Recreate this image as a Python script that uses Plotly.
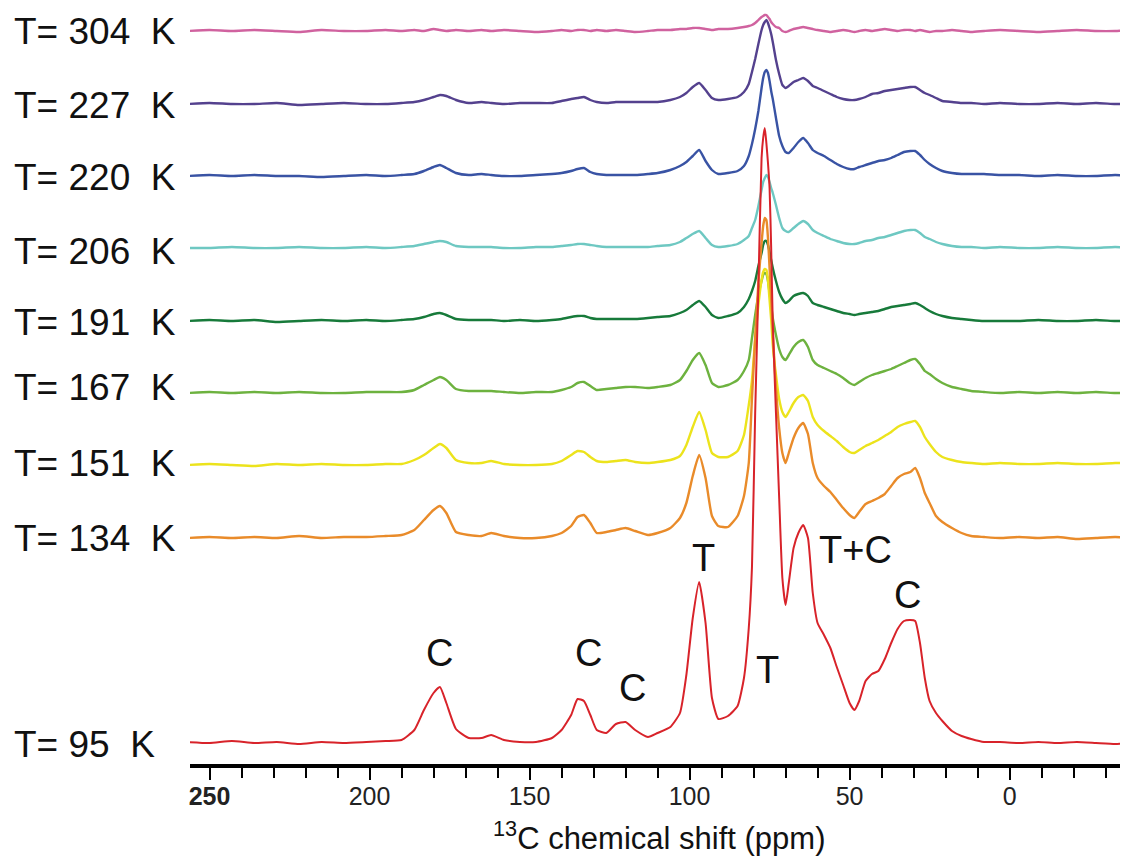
import plotly.graph_objects as go

# chemical shift grid (ppm)
ppm = [257, 250, 243, 236, 229, 222, 215, 208, 201, 195,
       190, 186, 183, 180, 178, 176, 173, 169, 165, 162,
       158, 153, 148, 143, 140, 137, 135, 133, 131, 129,
       126, 123, 120, 117, 113, 110, 106, 103, 101, 99,
       97, 95, 93, 91, 88, 85, 83, 81.5, 80.5, 79.5,
       78.5, 77.5, 77, 76.5, 76, 75.5, 75, 74.5, 74, 73,
       72, 71, 70, 69, 67.5, 66, 64.5, 63, 61.5, 60,
       58, 56, 54, 52, 50, 48.5, 47, 45, 43, 41,
       39, 37, 35, 33, 31, 29.5, 28, 26.5, 25, 23,
       21, 18, 15, 12, 8, 3, -3, -9, -15, -21, -27, -33, -38]

temps = ["304", "227", "220", "206", "191", "167", "151", "134", "95"]

i304 = [0, 1, 0, 1, 0, -1, 1, 0, 0, 1,
        0, 1, 0, 2, 1, 0, 1, 0, 1, 0,
        1, 0, -1, 0, 1, 0, 1, 1, 0, 1,
        0, 1, 0, -1, 0, 1, 1, 2, 2, 3,
        3, 2, 1, 2, 2, 3, 4, 5, 6, 8,
        11, 14, 15, 16, 16, 14, 12, 9, 7, 4,
        3, 0, -1, 0, 2, 3, 4, 3, 2, 1,
        0, -1, 0, 1, 0, -1, 0, 1, 0, 1,
        2, 1, 0, 1, 1, 0, 1, 0, -1, 0,
        0, 1, 0, -1, 0, 1, 0, -1, 0, 1, 0, 0, 1]

i227 = [0, 1, 0, 0, 1, -1, 0, 1, 0, 0,
        1, 2, 4, 7, 9, 8, 4, 1, 2, 1,
        0, 1, 1, 1, 3, 5, 6, 7, 4, 2,
        1, 2, 2, 2, 2, 2, 4, 7, 11, 17,
        21, 14, 6, 4, 5, 7, 12, 20, 32, 45,
        60, 74, 79, 82, 84, 81, 76, 70, 62, 44,
        30, 19, 16, 18, 22, 24, 26, 23, 18, 16,
        13, 10, 7, 5, 4, 4, 5, 7, 10, 11,
        13, 14, 15, 16, 17, 17, 14, 11, 9, 6,
        3, 2, 1, 1, 0, 1, 0, 0, 1, 0, 1, 0, 0]

i220 = [0, 1, 0, 1, 0, 0, -1, 0, 1, 0,
        1, 2, 5, 9, 11, 8, 3, 1, 2, 1,
        0, 0, 1, 2, 3, 5, 7, 8, 4, 2,
        1, 1, 1, 1, 2, 3, 6, 10, 14, 20,
        26, 15, 6, 2, 3, 5, 10, 20, 32, 47,
        65, 88, 98, 104, 106, 103, 95, 85, 77, 58,
        40, 30, 24, 23, 28, 34, 38, 33, 26, 23,
        20, 16, 12, 9, 7, 7, 9, 11, 13, 15,
        16, 18, 21, 24, 25, 25, 21, 16, 12, 8,
        5, 3, 2, 2, 2, 1, 1, 0, 1, 0, 0, 1, 0]

i206 = [0, 0, 1, 0, 0, 1, 0, 0, 1, 0,
        1, 2, 4, 6, 7, 6, 2, 1, 1, 1,
        0, 0, 1, 1, 2, 3, 4, 4, 3, 2,
        1, 1, 1, 1, 1, 2, 3, 6, 10, 14,
        17, 10, 3, 1, 2, 4, 8, 12, 20, 28,
        42, 58, 66, 70, 73, 71, 66, 60, 55, 43,
        30, 20, 17, 16, 20, 24, 27, 24, 18, 15,
        12, 9, 7, 5, 4, 4, 5, 7, 8, 10,
        11, 13, 15, 17, 18, 18, 15, 11, 9, 6,
        4, 2, 1, 1, 0, 1, 0, 0, 1, 0, 0, 1, 0]

i191 = [0, 1, 0, 1, -1, 0, 1, 0, 1, 0,
        1, 2, 4, 7, 8, 6, 2, 1, 1, 1,
        0, 1, 0, 1, 2, 4, 5, 5, 3, 2,
        2, 2, 2, 2, 3, 4, 5, 8, 11, 16,
        20, 14, 6, 3, 5, 8, 14, 22, 30, 40,
        55, 68, 76, 80, 80, 76, 69, 61, 53, 40,
        29, 22, 18, 20, 25, 27, 28, 25, 18, 16,
        14, 12, 10, 8, 7, 6, 7, 8, 9, 10,
        12, 14, 15, 16, 17, 18, 16, 13, 10, 7,
        5, 3, 2, 1, 0, 0, 0, 1, 0, 0, 1, 0, 0]

i167 = [0, 1, 0, 1, 0, 1, 0, 0, 1, 1,
        1, 3, 8, 13, 16, 13, 4, 2, 2, 2,
        1, 0, 1, 1, 3, 6, 10, 11, 7, 3,
        4, 5, 6, 6, 5, 6, 8, 13, 22, 33,
        40, 28, 10, 6, 8, 13, 22, 33, 55, 78,
        98, 112, 118, 120, 119, 112, 100, 88, 75, 58,
        44, 36, 33, 38, 46, 51, 53, 46, 33, 28,
        25, 22, 19, 15, 10, 8, 11, 15, 18, 20,
        22, 24, 27, 30, 33, 34, 29, 22, 19, 14,
        10, 6, 4, 2, 1, 0, 1, 0, 1, 0, 1, 0, 0]

i151 = [0, 1, 0, -1, 1, 0, 1, 0, 0, 1,
        1, 5, 10, 17, 21, 17, 5, 2, 2, 4,
        1, 0, 0, 1, 4, 10, 14, 13, 8, 4,
        3, 4, 5, 3, 2, 3, 5, 9, 20, 38,
        53, 35, 12, 8, 8, 14, 30, 60, 85, 125,
        160, 185, 193, 196, 195, 185, 165, 145, 120, 90,
        66, 53, 48, 53, 62, 68, 70, 64, 48, 40,
        34, 29, 24, 18, 13, 12, 15, 19, 22, 25,
        29, 33, 38, 41, 43, 44, 38, 28, 21, 13,
        8, 5, 3, 2, 1, 2, 1, 1, 2, 1, 1, 2, 2]

i134 = [0, 1, 0, 1, 0, 2, 0, 1, 1, 2,
        3, 8, 18, 28, 32, 25, 6, 3, 2, 5,
        2, 0, 0, 2, 5, 12, 21, 23, 15, 5,
        6, 8, 10, 7, 3, 5, 10, 20, 35, 62,
        83, 60, 22, 12, 11, 22, 42, 75, 140, 200,
        255, 295, 312, 320, 318, 300, 270, 240, 205, 150,
        110, 85, 75, 85, 100, 110, 115, 104, 75, 60,
        52, 46, 38, 30, 23, 20, 26, 34, 37, 40,
        44, 52, 60, 64, 66, 70, 60, 45, 35, 22,
        16, 10, 5, 2, 1, 0, 1, 0, 1, -1, 0, 1, 0]

i95 = [1, 0, 2, 0, 1, -1, 1, 0, 1, 2,
       3, 13, 33, 50, 56, 40, 14, 5, 5, 8,
       3, 1, 1, 5, 13, 28, 44, 42, 28, 13,
       10, 19, 21, 13, 6, 10, 16, 30, 68, 125,
       161, 120, 45, 24, 27, 37, 65, 115, 176, 330,
       455, 585, 605, 615, 600, 580, 555, 495, 420, 330,
       245, 165, 138, 160, 195, 210, 218, 205, 150, 120,
       108, 95, 76, 58, 40, 33, 42, 62, 69, 72,
       84, 100, 114, 122, 123, 122, 100, 65, 42, 30,
       22, 12, 7, 4, 1, 1, 0, 1, 0, 1, 0, -1, 0]

series = [i304, i227, i220, i206, i191, i167, i151, i134, i95]

# layout of the stack (vertical offsets) and styles
offsets = [733, 660, 588, 516, 443, 371, 299, 226, 21]
label_y = [733, 659, 587, 513, 442, 377, 301, 226, 20]
colors = ["#d0629f", "#54418e", "#3953a4", "#6ec8c2", "#177a3a",
          "#6db23f", "#ece31c", "#e98b2a", "#d8232a"]
widths = [2.4, 2.4, 2.4, 2.4, 2.4, 2.4, 2.4, 2.4, 2.0]

peak_text = ["C", "C", "C", "T", "T", "T+C", "C"]
peak_ppm = [178.0, 131.7, 117.7, 95.8, 75.8, 48.0, 32.0]
peak_val = [111, 111, 76, 206, 94, 214, 169]

tick_vals = [250, 200, 150, 100, 50, 0]
tick_text = ["<b>250</b>", "200", "150", "100", "50", "0"]

# the page body adds an 8 px offset; the figure is sized to fill the rest
PAGE_OFF = 8
W, H = 1128 - PAGE_OFF, 858 - PAGE_OFF
ML, MB = 190 - PAGE_OFF, 94
PLOT_H = H - MB

fig = go.Figure()
for t, ys, off, col, w in zip(temps, series, offsets, colors, widths):
    fig.add_trace(go.Scatter(
        x=ppm, y=[v + off for v in ys], mode="lines",
        line=dict(color=col, width=w, shape="spline", smoothing=0.5),
        name=f"T= {t} K", showlegend=False, hoverinfo="skip"))

annotations = []
for t, ly in zip(temps, label_y):
    annotations.append(dict(
        text=f"T= {t}\u00a0 K", xref="paper", yref="y", x=-178 / 938, y=ly,
        xanchor="left", yanchor="middle", showarrow=False,
        font=dict(family="Liberation Sans, Arial, sans-serif", size=37, color="#111111")))
for txt, px, pv in zip(peak_text, peak_ppm, peak_val):
    annotations.append(dict(
        text=txt, xref="x", yref="y", x=px, y=pv, xanchor="center", yanchor="middle",
        showarrow=False,
        font=dict(family="Liberation Sans, Arial, sans-serif", size=38, color="#111111")))
annotations.append(dict(
    text="<sup>13</sup>C chemical shift (ppm)", xref="paper", yref="paper",
    x=0.5, y=(764 - 836) / PLOT_H, xanchor="center", yanchor="middle", showarrow=False,
    font=dict(family="Liberation Sans Narrow, Arial Narrow, Liberation Sans, sans-serif",
              size=31, color="#111111")))

fig.update_layout(
    width=W, height=H,
    margin=dict(l=ML, r=0, t=0, b=MB, pad=0),
    paper_bgcolor="white", plot_bgcolor="white",
    annotations=annotations,
    xaxis=dict(
        range=[256.1, -37.0], showgrid=False, zeroline=False,
        showline=True, linewidth=3.5, linecolor="black",
        ticks="outside", ticklen=12, tickwidth=2.2, tickcolor="black",
        tickvals=tick_vals, ticktext=tick_text, ticklabelstandoff=-5,
        tickfont=dict(family="Liberation Sans Narrow, Arial Narrow, Liberation Sans, sans-serif",
                      size=25, color="#222222"),
        minor=dict(ticks="outside", dtick=10, tick0=0, ticklen=10, tickwidth=2.2,
                   tickcolor="black", showgrid=False),
    ),
    yaxis=dict(range=[0, PLOT_H], visible=False, showgrid=False, zeroline=False),
)

fig.write_html("out.html")
